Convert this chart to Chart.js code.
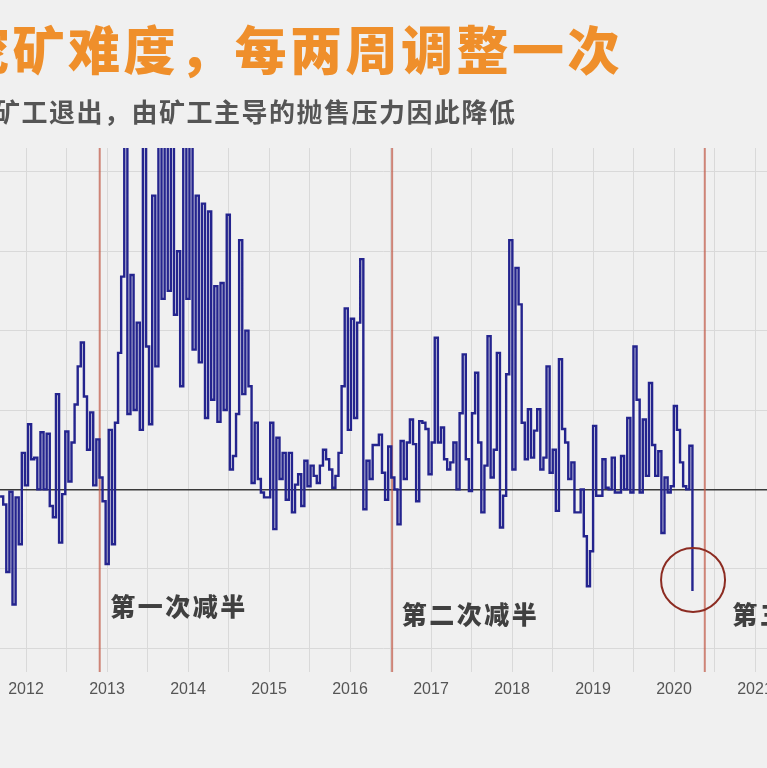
<!DOCTYPE html>
<html>
<head>
<meta charset="utf-8">
<script src="https://cdn.jsdelivr.net/npm/chart.js@4.4.1/dist/chart.umd.min.js"></script>
<style>
  html, body { margin: 0; padding: 0; background: #f0f0f0; overflow: hidden; }
  #wrap { position: relative; width: 767px; height: 768px; }
  #title {
    position: absolute; left: -43px; top: 22px; white-space: nowrap;
    font-family: "Noto Sans CJK SC", sans-serif; font-weight: 900;
    font-size: 52px; line-height: 52px; letter-spacing: 3.5px; color: #ef8f2b;
  }
  #subtitle {
    position: absolute; left: -6px; top: 98px; white-space: nowrap;
    font-family: "Noto Sans CJK SC", sans-serif; font-weight: 700;
    font-size: 26px; line-height: 26px; letter-spacing: 1.5px; color: #555;
  }
  canvas { position: absolute; left: 0; top: 0; }
</style>
</head>
<body>
<div id="wrap">
  <canvas id="difficulty" width="767" height="768"></canvas>
  <div id="title">挖矿难度，每两周调整一次</div>
  <div id="subtitle">矿工退出，由矿工主导的抛售压力因此降低</div>
</div>
<script>
// difficulty change per adjustment (%), one value per ~2 weeks
var firstAdjustment = 2011.68;
var adjustmentStep = 14 / 365.25;
var changes = [
    -0.9, -1.9, -10.4, -0.3, -14.5, -1.0, -6.9, 4.6, 0.5, 8.2,
    3.8, 4.0, 0.0, 7.2, 0.0, 7.0, -2.1, -3.5, 12.0, -6.7,
    -0.6, 7.3, 1.0, 5.9, 10.7, 15.5, 18.5, 11.7, 5.0, 9.7,
    0.5, 6.3, 1.5, -1.5, -9.4, 7.5, -6.9, 8.4, 17.2, 26.8,
    50, 9.5, 27, 10, 21, 7.5, 48, 18, 8.2, 37,
    15.5, 52, 24, 55, 25, 50, 22, 30, 13, 49,
    24, 47, 17.6, 37, 16, 36, 9, 35, 11.3, 25.6,
    8.5, 26, 10, 34.6, 2.5, 4.2, 9.5, 31.4, 12, 20,
    13, 0.8, 8.4, 1.3, -0.4, -1.0, -1.0, 8.4, -5.0, 6.5,
    1.3, 4.6, -1.3, 4.6, -2.9, 0.6, 1.9, -2.1, 3.6, 0.4,
    3.0, 1.7, 0.8, 3.0, 5.0, 3.8, 2.5, 0.2, 1.7, 4.6,
    13, 22.8, 7.5, 21.5, 9, 21, 29, -2.5, 3.6, 1.3,
    5.6, 5.6, 6.9, 2.1, -1.3, 5.4, 1.5, 0, -4.4, 6.1,
    1.3, 5.9, 8.8, 5.7, -1.5, 8.6, 8.4, 7.6, 1.9, 5.9,
    19.1, 5.9, 7.8, 3.8, 2.5, 3.4, 5.9, 0, 9.6, 17,
    3.8, -0.2, 9.6, 14.7, 5.9, -2.9, 3.0, 19.3, 1.5, 5.0,
    17.2, -4.8, -0.8, 14.5, 31.4, 2.5, 27.9, 23.3, 8.4, 3.8,
    10.1, 4.0, 7.4, 10.1, 2.5, 4.0, 15.5, 2.1, 5.0, -2.7,
    16.4, 7.6, 5.9, 1.3, 3.4, -2.9, -2.9, 0, -5.9, -12.2,
    -7.8, 8.0, -0.8, -0.8, 3.8, 0.2, 0, 4.0, -0.4, -0.4,
    4.2, 0, 9.0, -0.4, 18, 11.3, -0.4, 8.8, 1.7, 13.4,
    5.6, 1.7, 4.8, -5.5, 1.5, -0.4, 0.4, 10.5, 7.5, 3.4,
    0.4, 0, 5.5, -12.8
];

// halvings (decimal years) and their labels
var halvingDates = [2012.91, 2016.52, 2020.38];
var halvingNames = ['第一次减半', '第二次减半', '第三次减半'];

// axis ticks
var gridYears = [2012, 2012.5, 2013, 2013.5, 2014, 2014.5, 2015, 2015.5, 2016, 2016.5,
                 2017, 2017.5, 2018, 2018.5, 2019, 2019.5, 2020, 2020.5, 2021];
var gridValues = [-20, -10, 0, 10, 20, 30, 40];

var points = changes.map((v, i) => ({ x: firstAdjustment + i * adjustmentStep, y: v }));

// where the halving labels sit (years, %)
var labelSpots = [[2013.04, -14.7], [2016.64, -15.7], [2020.72, -15.7]];
var circleSpot = [2020.235, -11.4];

var overlay = {
    id: 'overlay',
    beforeDatasetsDraw(chart) {
        var ctx = chart.ctx, area = chart.chartArea, x = chart.scales.x;
        ctx.save();
        ctx.strokeStyle = 'rgba(192, 90, 72, 0.72)';
        ctx.lineWidth = 2;
        halvingDates.forEach(d => {
            var px = x.getPixelForValue(d);
            ctx.beginPath();
            ctx.moveTo(px, area.top);
            ctx.lineTo(px, area.bottom);
            ctx.stroke();
        });
        ctx.restore();
    },
    afterDatasetsDraw(chart) {
        var ctx = chart.ctx, x = chart.scales.x, y = chart.scales.y;
        ctx.save();
        ctx.fillStyle = '#404040';
        ctx.font = '900 25px "Noto Sans CJK SC"';
        ctx.letterSpacing = '2.5px';
        ctx.textBaseline = 'middle';
        ctx.textAlign = 'left';
        halvingNames.forEach((name, i) => {
            ctx.fillText(name, x.getPixelForValue(labelSpots[i][0]), y.getPixelForValue(labelSpots[i][1]));
        });
        ctx.strokeStyle = '#8c2c22';
        ctx.lineWidth = 2;
        ctx.beginPath();
        ctx.arc(x.getPixelForValue(circleSpot[0]), y.getPixelForValue(circleSpot[1]), 32, 0, Math.PI * 2);
        ctx.stroke();
        ctx.restore();
    }
};

var ctx = document.getElementById('difficulty').getContext('2d');
var chart = new Chart(ctx, {
    type: 'line',
    data: {
        datasets: [{
            data: points,
            stepped: true,
            borderColor: '#24248e',
            borderWidth: 2.4,
            pointRadius: 0,
            fill: false
        }]
    },
    options: {
        responsive: false,
        animation: false,
        layout: { autoPadding: false, padding: { top: 148, bottom: 66, left: 0, right: 0 } },
        plugins: { legend: { display: false }, tooltip: { enabled: false } },
        scales: {
            x: {
                type: 'linear',
                min: 2011.679,
                max: 2021.148,
                afterBuildTicks: s => { s.ticks = gridYears.map(v => ({ value: v })); },
                afterFit: s => { s.height = 30; s.paddingLeft = 0; s.paddingRight = 0; },
                border: { display: false },
                grid: { color: '#d9d9d9', lineWidth: 1, drawTicks: false },
                ticks: {
                    autoSkip: false,
                    maxRotation: 0,
                    padding: 8,
                    color: '#555',
                    font: { family: 'Liberation Sans', size: 16 },
                    callback: v => Number.isInteger(v) ? String(v) : ''
                }
            },
            y: {
                min: -23,
                max: 43,
                afterBuildTicks: s => { s.ticks = gridValues.map(v => ({ value: v })); },
                afterFit: s => { s.width = 0; s.paddingTop = 0; s.paddingBottom = 0; },
                border: { display: false },
                grid: {
                    drawTicks: false,
                    color: c => c.tick && c.tick.value === 0 ? '#3a3a3a' : '#d9d9d9',
                    lineWidth: c => c.tick && c.tick.value === 0 ? 1.4 : 1
                },
                ticks: { display: false }
            }
        }
    },
    plugins: [overlay]
});
</script>
</body>
</html>
